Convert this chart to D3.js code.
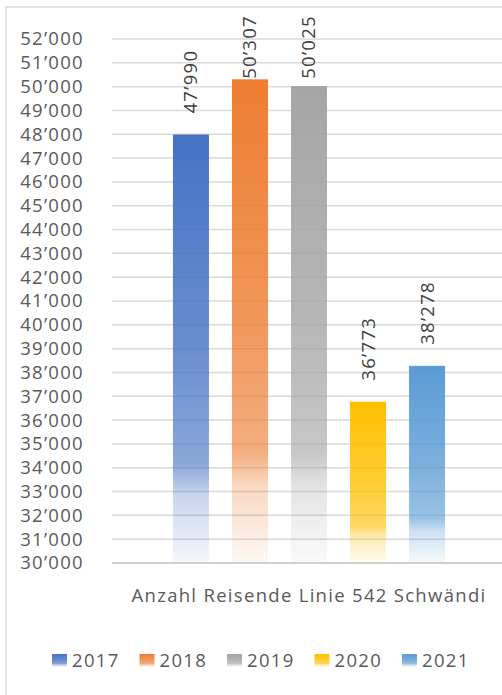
<!DOCTYPE html>
<html>
<head>
<meta charset="utf-8">
<script src="https://cdn.jsdelivr.net/npm/d3@7"></script>
<style>
  body { margin: 0; background: #fff; }
  svg { display: block; font-family: "Open Sans", sans-serif; }
</style>
</head>
<body>
<div id="chart"></div>
<script>
// data
var category = ["Anzahl Reisende Linie 542 Schwändi"];
var years = ["2017", "2018", "2019", "2020", "2021"];
var values = [47990, 50307, 50025, 36773, 38278];
var colors = ["#4472C4", "#ED7D31", "#A5A5A5", "#FFC000", "#5B9BD5"];
var yTicks = d3.range(30000, 52001, 1000);

var W = 502, H = 695;
var margin = {top: 39, right: -4, bottom: 132, left: 112};
var width = W - margin.left - margin.right;
var height = H - margin.top - margin.bottom;
var fs = 18.5, ls = 1.3;

var fmt = d3.formatLocale({decimal: ".", thousands: "\u2019", grouping: [3], currency: ["", ""]}).format(",");

var svg = d3.select("#chart")
    .append("svg")
    .attr("width", W)
    .attr("height", H);

// chart frame (runs off the right and bottom edge)
svg.append("rect")
    .attr("x", 6)
    .attr("y", 7)
    .attr("width", 520)
    .attr("height", 720)
    .attr("fill", "none")
    .attr("stroke", "#d9d9d9")
    .attr("stroke-width", 1.5);

// gradients, one per year
var defs = svg.append("defs");
years.forEach(function (y, i) {
    var g = defs.append("linearGradient")
        .attr("id", "grad" + y)
        .attr("x1", 0).attr("y1", 0)
        .attr("x2", 0).attr("y2", 1);
    [[0, 1], [0.5, 0.8], [0.77, 0.62], [0.84, 0.3], [1, 0.05]].forEach(function (s) {
        g.append("stop")
            .attr("offset", s[0])
            .attr("stop-color", colors[i])
            .attr("stop-opacity", s[1]);
    });
});

var g = svg.append("g")
    .attr("transform", "translate(" + margin.left + "," + margin.top + ")");

var yscale = d3.scaleLinear()
    .domain([30000, 52000])
    .range([height, 0]);

var x0 = d3.scaleBand()
    .domain(category)
    .range([0, width])
    .padding(0.183);

var x1 = d3.scaleBand()
    .domain(years)
    .range([0, x0.bandwidth()])
    .paddingInner(0.39)
    .paddingOuter(0);

// gridlines
g.selectAll(".grid")
    .data(yTicks.slice(1))
    .enter()
    .append("line")
    .attr("x1", 0)
    .attr("x2", width)
    .attr("y1", function (d) { return yscale(d); })
    .attr("y2", function (d) { return yscale(d); })
    .attr("stroke", "#d9d9d9")
    .attr("stroke-width", 1.5);

// y axis labels
var yaxis = d3.axisLeft(yscale)
    .tickValues(yTicks)
    .tickFormat(fmt)
    .tickSize(0)
    .tickPadding(28);
g.append("g")
    .attr("class", "yaxis")
    .call(yaxis)
    .call(function (s) { s.select(".domain").remove(); })
    .selectAll("text")
    .attr("fill", "#595959")
    .attr("font-size", fs)
    .attr("letter-spacing", ls)
    .attr("font-family", "Open Sans");

var grp = g.selectAll(".grp")
    .data(category)
    .enter()
    .append("g")
    .attr("transform", function (d) { return "translate(" + x0(d) + ",0)"; });

// bars
grp.selectAll("rect")
    .data(years.map(function (y, i) { return {year: y, value: values[i]}; }))
    .enter()
    .append("rect")
    .attr("x", function (d) { return x1(d.year); })
    .attr("y", function (d) { return yscale(d.value); })
    .attr("width", x1.bandwidth())
    .attr("height", function (d) { return height - yscale(d.value); })
    .attr("fill", function (d) { return "url(#grad" + d.year + ")"; });

// x axis line
g.append("line")
    .attr("x1", 0)
    .attr("x2", width)
    .attr("y1", height)
    .attr("y2", height)
    .attr("stroke", "#d0d0d0")
    .attr("stroke-width", 2);

// value labels, rotated; pushed down when they would leave the top
grp.selectAll(".lbl")
    .data(years.map(function (y, i) { return {year: y, value: values[i]}; }))
    .enter()
    .append("text")
    .attr("class", "lbl")
    .attr("fill", "#404040")
    .attr("font-size", fs)
    .attr("letter-spacing", ls)
    .attr("dy", "0.35em")
    .text(function (d) { return fmt(d.value); })
    .attr("transform", function (d) {
        var len = this.getComputedTextLength();
        var yb = yscale(d.value) - 21;
        if (yb - len < 15 - margin.top) yb = 15 - margin.top + len;
        return "translate(" + (x1(d.year) + x1.bandwidth() / 2) + "," + yb + ")rotate(-90)";
    });

// category label
g.append("text")
    .attr("x", x0(category[0]) + x0.bandwidth() / 2)
    .attr("y", height + 39)
    .attr("text-anchor", "middle")
    .attr("fill", "#595959")
    .attr("font-size", fs)
    .attr("letter-spacing", ls)
    .text(category[0]);

// legend
var lx = d3.scalePoint()
    .domain(years)
    .range([52, 402]);
var leg = svg.selectAll(".leg")
    .data(years)
    .enter()
    .append("g")
    .attr("class", "leg")
    .attr("transform", function (d) { return "translate(" + lx(d) + ",654)"; });
leg.append("rect")
    .attr("width", 15)
    .attr("height", 13)
    .attr("fill", function (d) { return "url(#grad" + d + ")"; });
leg.append("text")
    .attr("x", 20)
    .attr("y", 6.5)
    .attr("dy", "0.35em")
    .attr("fill", "#595959")
    .attr("font-size", fs)
    .attr("letter-spacing", ls)
    .text(function (d) { return d; });
</script>
</body>
</html>
